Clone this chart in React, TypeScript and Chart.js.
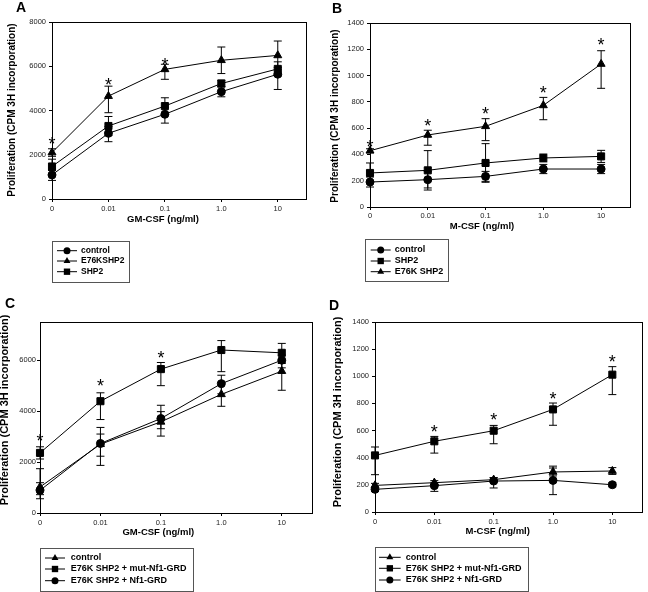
import React, { useEffect, useRef } from "react";
import { Chart, registerables } from "chart.js";

Chart.register(...registerables);

const FONT = "'Liberation Sans', Arial, Helvetica, sans-serif";

// ---------- shared categories ----------
const doseLabels = ["0", "0.01", "0.1", "1.0", "10"];
const dosePositions = [0, 1, 2, 3, 4];

// ---------- Panel A (GM-CSF) ----------
const aControl = [1090, 2970, 3830, 4850, 5640];
const aControlUp = [200, 300, 300, 220, 300];
const aControlDown = [250, 380, 400, 230, 690];
const aE76K = [2100, 4650, 5860, 6270, 6490];
const aE76KUp = [170, 450, 230, 600, 650];
const aE76KDown = [170, 750, 450, 600, 650];
const aSHP2 = [1470, 3300, 4200, 5220, 5880];
const aSHP2Up = [330, 430, 375, 150, 320];
const aSHP2Down = [330, 430, 375, 150, 320];
const aStars = [2700, 5370, 6270, null, null];
const aYTicks = [0, 2000, 4000, 6000, 8000];

// ---------- Panel B (M-CSF) ----------
const bControl = [190, 208, 233, 289, 289];
const bControlUp = [38, 63, 38, 35, 35];
const bControlDown = [38, 63, 38, 35, 35];
const bSHP2 = [259, 279, 335, 373, 385];
const bSHP2Up = [76, 150, 147, 30, 46];
const bSHP2Down = [76, 150, 147, 30, 46];
const bE76K = [428, 548, 614, 773, 1088];
const bE76KUp = [15, 36, 58, 61, 101];
const bE76KDown = [15, 78, 109, 109, 185];
const bStars = [487, 652, 740, 898, 1268];
const bYTicks = [0, 200, 400, 600, 800, 1000, 1200, 1400];

// ---------- Panel C (GM-CSF, Nf1-GRD) ----------
const cControl = [1020, 2700, 3580, 4660, 5570];
const cControlUp = [720, 400, 400, 470, 300];
const cControlDown = [300, 470, 560, 470, 750];
const cMut = [2360, 4390, 5650, 6400, 6290];
const cMutUp = [240, 330, 260, 370, 370];
const cMutDown = [240, 720, 650, 850, 370];
const cNf1 = [890, 2730, 3710, 5080, 6000];
const cNf1Up = [300, 630, 520, 330, 200];
const cNf1Down = [330, 860, 400, 400, 300];
const cStars = [2990, 5150, 6260, null, null];
const cYTicks = [0, 2000, 4000, 6000];

// ---------- Panel D (M-CSF, Nf1-GRD) ----------
const dControl = [196, 216, 238, 295, 302];
const dControlUp = [15, 15, 15, 29, 25];
const dControlDown = [15, 15, 15, 29, 25];
const dMut = [417, 521, 599, 756, 1012];
const dMutUp = [62, 36, 39, 47, 59];
const dMutDown = [142, 87, 96, 117, 147];
const dNf1 = [167, 194, 228, 233, 201];
const dNf1Up = [15, 20, 25, 105, 15];
const dNf1Down = [15, 42, 51, 105, 15];
const dStars = [null, 626, 712, 865, 1135];
const dYTicks = [0, 200, 400, 600, 800, 1000, 1200, 1400];

type Marker = "circle" | "triangle" | "rect";
interface SeriesDef {
  label: string;
  values: number[];
  errUp: number[];
  errDown: number[];
  marker: Marker;
}
interface LegendDef {
  x: number; y: number; w: number; h: number;
  rows: number[]; lx0: number; lx1: number; tx: number; size: number;
}
interface PanelDef {
  left: number; top: number;
  area: { l: number; t: number; r: number; b: number };
  yMax: number; yTicks: number[]; yTickPad: number; xTickPad: number;
  xTitle: string; xTitleX: number; xTitleY: number;
  yTitleX: number; yTitleY: number; yTitleSize: number;
  letter: string; letterX: number; letterY: number;
  stars: (number | null)[];
  series: SeriesDef[];
  legend: LegendDef;
}

const W = 324;
const H = 296;
const Y_TITLE = "Proliferation (CPM 3H incorporation)";
const markerRadius: Record<Marker, number> = { circle: 4, triangle: 4.6, rect: 5 };
const legendRadius: Record<Marker, number> = { circle: 3.5, triangle: 4, rect: 4.5 };

const panels: PanelDef[] = [
  {
    left: 0, top: 0,
    area: { l: 52, t: 22, r: 306, b: 199 },
    yMax: 8000, yTicks: aYTicks, yTickPad: 3, xTickPad: 2,
    xTitle: "GM-CSF (ng/ml)", xTitleX: 163, xTitleY: 219,
    yTitleX: 12.5, yTitleY: 110, yTitleSize: 10,
    letter: "A", letterX: 16, letterY: 12,
    stars: aStars,
    series: [
      { label: "control", values: aControl, errUp: aControlUp, errDown: aControlDown, marker: "circle" },
      { label: "E76KSHP2", values: aE76K, errUp: aE76KUp, errDown: aE76KDown, marker: "triangle" },
      { label: "SHP2", values: aSHP2, errUp: aSHP2Up, errDown: aSHP2Down, marker: "rect" },
    ],
    legend: { x: 52, y: 241, w: 77, h: 41, rows: [250.7, 261, 271.7], lx0: 57, lx1: 77, tx: 81, size: 8.5 },
  },
  {
    left: 324, top: 0,
    area: { l: 46, t: 23, r: 306, b: 207 },
    yMax: 1400, yTicks: bYTicks, yTickPad: 3, xTickPad: 1,
    xTitle: "M-CSF (ng/ml)", xTitleX: 158, xTitleY: 226.7,
    yTitleX: 11.5, yTitleY: 116, yTitleSize: 10,
    letter: "B", letterX: 8, letterY: 13,
    stars: bStars,
    series: [
      { label: "control", values: bControl, errUp: bControlUp, errDown: bControlDown, marker: "circle" },
      { label: "SHP2", values: bSHP2, errUp: bSHP2Up, errDown: bSHP2Down, marker: "rect" },
      { label: "E76K SHP2", values: bE76K, errUp: bE76KUp, errDown: bE76KDown, marker: "triangle" },
    ],
    legend: { x: 40.7, y: 239.3, w: 83.3, h: 42.4, rows: [250, 261, 271.7], lx0: 46.7, lx1: 66.7, tx: 70.7, size: 9 },
  },
  {
    left: 0, top: 296,
    area: { l: 40, t: 26, r: 312, b: 217 },
    yMax: 7500, yTicks: cYTicks, yTickPad: 1, xTickPad: 2,
    xTitle: "GM-CSF (ng/ml)", xTitleX: 158.3, xTitleY: 236.3,
    yTitleX: 5, yTitleY: 114, yTitleSize: 11,
    letter: "C", letterX: 5, letterY: 12,
    stars: cStars,
    series: [
      { label: "control", values: cControl, errUp: cControlUp, errDown: cControlDown, marker: "triangle" },
      { label: "E76K SHP2 + mut-Nf1-GRD", values: cMut, errUp: cMutUp, errDown: cMutDown, marker: "rect" },
      { label: "E76K SHP2 + Nf1-GRD", values: cNf1, errUp: cNf1Up, errDown: cNf1Down, marker: "circle" },
    ],
    legend: { x: 40, y: 252, w: 153.3, h: 42.7, rows: [262, 273, 284.7], lx0: 45, lx1: 65, tx: 70.7, size: 9 },
  },
  {
    left: 324, top: 296,
    area: { l: 51, t: 26, r: 323, b: 216 },
    yMax: 1400, yTicks: dYTicks, yTickPad: 3, xTickPad: 2,
    xTitle: "M-CSF (ng/ml)", xTitleX: 173.7, xTitleY: 235.7,
    yTitleX: 14, yTitleY: 116, yTitleSize: 11,
    letter: "D", letterX: 5, letterY: 14,
    stars: dStars,
    series: [
      { label: "control", values: dControl, errUp: dControlUp, errDown: dControlDown, marker: "triangle" },
      { label: "E76K SHP2 + mut-Nf1-GRD", values: dMut, errUp: dMutUp, errDown: dMutDown, marker: "rect" },
      { label: "E76K SHP2 + Nf1-GRD", values: dNf1, errUp: dNf1Up, errDown: dNf1Down, marker: "circle" },
    ],
    legend: { x: 50.7, y: 250.7, w: 153.3, h: 44, rows: [261.3, 272.3, 284], lx0: 55, lx1: 76.7, tx: 81.7, size: 9 },
  },
];

function drawMarker(ctx: CanvasRenderingContext2D, m: Marker, x: number, y: number, r: number) {
  ctx.beginPath();
  if (m === "circle") {
    ctx.arc(x, y, r, 0, Math.PI * 2);
  } else if (m === "rect") {
    const s = r / Math.SQRT2;
    ctx.rect(x - s, y - s, 2 * s, 2 * s);
  } else {
    const a = (2 * Math.PI) / 3;
    ctx.moveTo(x, y - r);
    ctx.lineTo(x + r * Math.sin(a), y - r * Math.cos(a));
    ctx.lineTo(x + r * Math.sin(2 * a), y - r * Math.cos(2 * a));
    ctx.closePath();
  }
  ctx.fill();
}

function makeDecor(def: PanelDef) {
  return {
    id: "panelDecor",
    beforeDatasetsDraw(chart: any) {
      const { ctx, chartArea: a, scales } = chart;
      const xs = scales.x;
      const ys = scales.y;
      ctx.save();
      ctx.strokeStyle = "#000";
      ctx.lineWidth = 1;
      ctx.strokeRect(Math.round(a.left) + 0.5, Math.round(a.top) + 0.5, Math.round(a.right - a.left), Math.round(a.bottom - a.top));
      // error bars
      def.series.forEach((s) => {
        s.values.forEach((v, i) => {
          const x = xs.getPixelForValue(dosePositions[i]);
          const yHi = ys.getPixelForValue(v + s.errUp[i]);
          const yLo = ys.getPixelForValue(v - s.errDown[i]);
          ctx.beginPath();
          ctx.moveTo(x, yHi);
          ctx.lineTo(x, yLo);
          ctx.moveTo(x - 4, yHi);
          ctx.lineTo(x + 4, yHi);
          ctx.moveTo(x - 4, yLo);
          ctx.lineTo(x + 4, yLo);
          ctx.stroke();
        });
      });
      ctx.restore();
    },
    afterDatasetsDraw(chart: any) {
      const { ctx, scales } = chart;
      const xs = scales.x;
      const ys = scales.y;
      ctx.save();
      ctx.fillStyle = "#000";
      ctx.font = `18px ${FONT}`;
      ctx.textAlign = "center";
      ctx.textBaseline = "alphabetic";
      def.stars.forEach((v, i) => {
        if (v === null) return;
        const x = xs.getPixelForValue(dosePositions[i]);
        const y = ys.getPixelForValue(v);
        ctx.fillText("*", x, y + 10.5);
      });
      ctx.restore();
    },
    afterDraw(chart: any) {
      const { ctx } = chart;
      ctx.save();
      ctx.fillStyle = "#000";
      // panel letter
      ctx.font = `bold 14px ${FONT}`;
      ctx.textAlign = "left";
      ctx.textBaseline = "alphabetic";
      ctx.fillText(def.letter, def.letterX, def.letterY);
      // x title
      ctx.font = `bold 9.5px ${FONT}`;
      ctx.textAlign = "center";
      ctx.textBaseline = "middle";
      ctx.fillText(def.xTitle, def.xTitleX, def.xTitleY);
      // y title
      ctx.save();
      ctx.translate(def.yTitleX, def.yTitleY);
      ctx.rotate(-Math.PI / 2);
      ctx.font = `bold ${def.yTitleSize}px ${FONT}`;
      ctx.fillText(Y_TITLE, 0, 0);
      ctx.restore();
      // legend
      const L = def.legend;
      ctx.strokeStyle = "#555";
      ctx.lineWidth = 1;
      ctx.strokeRect(Math.round(L.x) + 0.5, Math.round(L.y) + 0.5, Math.round(L.w), Math.round(L.h));
      ctx.font = `bold ${L.size}px ${FONT}`;
      ctx.textAlign = "left";
      ctx.textBaseline = "middle";
      def.series.forEach((s, i) => {
        const y = L.rows[i];
        ctx.strokeStyle = "#000";
        ctx.beginPath();
        ctx.moveTo(L.lx0, y);
        ctx.lineTo(L.lx1, y);
        ctx.stroke();
        drawMarker(ctx, s.marker, (L.lx0 + L.lx1) / 2, y, legendRadius[s.marker]);
        ctx.fillText(s.label, L.tx, y);
      });
      ctx.restore();
    },
  };
}

function buildConfig(def: PanelDef): any {
  const tickFont = { family: FONT, size: 7.5 };
  return {
    type: "line",
    data: {
      datasets: def.series.map((s) => ({
        label: s.label,
        data: s.values.map((v, i) => ({ x: dosePositions[i], y: v })),
        borderColor: "#000",
        borderWidth: 1,
        backgroundColor: "#000",
        pointStyle: s.marker,
        pointRadius: markerRadius[s.marker],
        pointBackgroundColor: "#000",
        pointBorderColor: "#000",
        pointBorderWidth: 1,
        tension: 0,
        fill: false,
        clip: false,
      })),
    },
    options: {
      animation: false,
      responsive: false,
      devicePixelRatio: 1,
      events: [],
      layout: { padding: { left: 0, top: def.area.t, right: W - def.area.r, bottom: 0 } },
      plugins: { legend: { display: false }, tooltip: { enabled: false }, title: { display: false } },
      scales: {
        x: {
          type: "linear",
          min: 0,
          max: 4.5,
          afterBuildTicks: (s: any) => {
            s.ticks = dosePositions.map((v) => ({ value: v }));
          },
          afterFit: (s: any) => {
            s.height = H - def.area.b;
          },
          ticks: {
            callback: (_v: any, i: number) => doseLabels[i],
            font: tickFont,
            color: "#222",
            padding: def.xTickPad,
            maxRotation: 0,
            autoSkip: false,
          },
          grid: { display: true, drawOnChartArea: false, drawTicks: true, tickLength: 3, color: "#000" },
          border: { display: false },
        },
        y: {
          type: "linear",
          min: 0,
          max: def.yMax,
          afterBuildTicks: (s: any) => {
            s.ticks = def.yTicks.map((v) => ({ value: v }));
          },
          afterFit: (s: any) => {
            s.width = def.area.l;
          },
          ticks: {
            callback: (v: any) => String(v),
            font: tickFont,
            color: "#222",
            padding: def.yTickPad,
          },
          grid: { display: true, drawOnChartArea: false, drawTicks: true, tickLength: 3, color: "#000" },
          border: { display: false },
        },
      },
    },
    plugins: [makeDecor(def)],
  };
}

function Panel({ def }: { def: PanelDef }) {
  const ref = useRef<HTMLCanvasElement>(null);
  useEffect(() => {
    if (!ref.current) return;
    const chart = new Chart(ref.current, buildConfig(def));
    return () => chart.destroy();
  }, [def]);
  return (
    <canvas
      ref={ref}
      width={W}
      height={H}
      style={{ position: "absolute", left: def.left, top: def.top, width: W, height: H }}
    />
  );
}

export default function App() {
  return (
    <div style={{ position: "absolute", left: 0, top: 0, width: 648, height: 592, background: "#fff" }}>
      {panels.map((p, i) => (
        <Panel key={i} def={p} />
      ))}
    </div>
  );
}
